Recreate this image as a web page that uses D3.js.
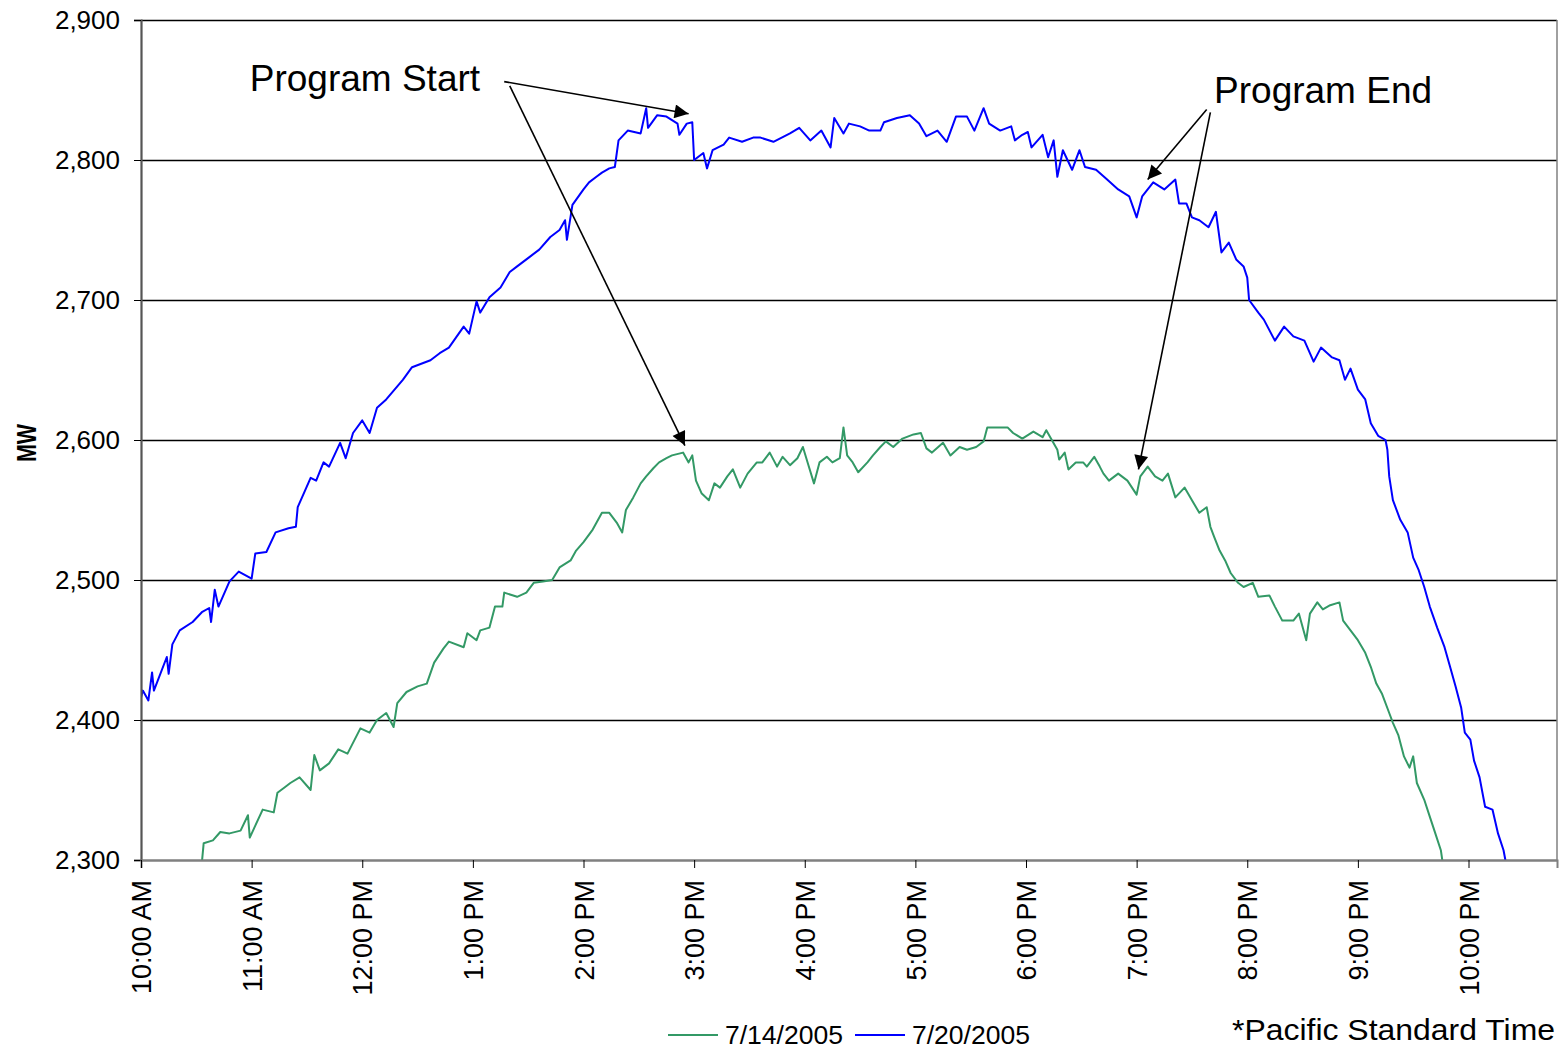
<!DOCTYPE html>
<html>
<head>
<meta charset="utf-8">
<script src="https://cdn.jsdelivr.net/npm/d3@7"></script>
<style>
  html, body { margin: 0; padding: 0; background: #fff; }
  svg { display: block; font-family: "Liberation Sans", Arial, sans-serif; }
</style>
</head>
<body>
<svg id="chart" width="1560" height="1049"></svg>
<script>
// ---------------- DATA ----------------
const seriesNames = ["7/14/2005", "7/20/2005"];
const seriesColors = ["#339966", "#0000FF"];

// 7/20/2005 load (MW), time of day (PST)
const jul20Times = ["10:00","10:01","10:04","10:06","10:07","10:14","10:15","10:17","10:21","10:28","10:33","10:37","10:38","10:40","10:42","10:48","10:53","11:00","11:02","11:08","11:13","11:20","11:24","11:25","11:28","11:32","11:35","11:39","11:42","11:48","11:51","11:55","12:00","12:04","12:08","12:13","12:22","12:27","12:37","12:42","12:47","12:55","12:58","13:02","13:04","13:09","13:15","13:20","13:24","13:31","13:36","13:42","13:47","13:50","13:51","13:54","14:00","14:03","14:07","14:10","14:14","14:17","14:19","14:24","14:31","14:34","14:35","14:40","14:45","14:51","14:52","14:56","14:59","15:00","15:05","15:07","15:10","15:16","15:19","15:26","15:32","15:36","15:43","15:52","15:57","16:03","16:09","16:14","16:16","16:21","16:24","16:30","16:35","16:41","16:43","16:50","16:57","17:02","17:06","17:12","17:17","17:22","17:28","17:32","17:37","17:40","17:46","17:52","17:54","17:58","18:01","18:03","18:09","18:12","18:15","18:17","18:20","18:25","18:29","18:32","18:38","18:44","18:50","18:56","19:00","19:03","19:09","19:15","19:21","19:23","19:27","19:30","19:34","19:39","19:43","19:46","19:50","19:54","19:58","20:00","20:01","20:06","20:09","20:15","20:20","20:25","20:31","20:36","20:40","20:46","20:50","20:53","20:56","21:00","21:04","21:07","21:11","21:15","21:16","21:17","21:19","21:23","21:27","21:30","21:33","21:36","21:39","21:43","21:47","21:50","21:53","21:56","21:58","22:01","22:03","22:06","22:09","22:13","22:16","22:19","22:20"];
const jul20Values = [2416,2421,2414,2434,2421,2445,2433,2454,2464,2470,2477,2480,2470,2493,2481,2499,2506,2501,2519,2520,2534,2537,2538,2552,2561,2573,2571,2584,2581,2598,2587,2605,2614,2605,2623,2629,2643,2652,2657,2662,2666,2681,2676,2699,2691,2702,2709,2720,2724,2731,2736,2745,2750,2757,2743,2768,2779,2784,2788,2791,2794,2795,2814,2821,2819,2837,2823,2832,2831,2826,2818,2826,2827,2800,2805,2794,2807,2811,2816,2813,2816,2816,2813,2819,2823,2814,2821,2809,2830,2819,2826,2824,2821,2821,2827,2830,2832,2826,2817,2821,2813,2831,2831,2821,2837,2826,2821,2824,2814,2818,2820,2809,2818,2802,2814,2788,2807,2793,2807,2795,2793,2786,2779,2774,2759,2774,2784,2779,2786,2769,2769,2759,2757,2752,2763,2734,2741,2729,2724,2716,2700,2691,2686,2671,2681,2674,2671,2656,2666,2659,2657,2643,2651,2636,2629,2612,2603,2600,2593,2574,2557,2543,2534,2516,2507,2495,2481,2466,2452,2438,2424,2409,2391,2386,2371,2359,2338,2336,2319,2307,2300];

// 7/14/2005 load (MW), time of day (PST)
const jul14Times = ["10:33","10:34","10:39","10:43","10:48","10:54","10:58","10:59","11:06","11:12","11:14","11:18","11:21","11:26","11:32","11:34","11:37","11:42","11:47","11:52","11:59","12:04","12:08","12:13","12:17","12:19","12:24","12:30","12:35","12:39","12:44","12:47","12:55","12:57","13:02","13:04","13:09","13:12","13:16","13:17","13:24","13:29","13:33","13:38","13:43","13:47","13:53","13:56","14:00","14:05","14:10","14:14","14:18","14:21","14:23","14:27","14:31","14:34","14:38","14:41","14:45","14:48","14:54","14:57","14:59","15:01","15:04","15:08","15:11","15:14","15:18","15:21","15:25","15:29","15:34","15:37","15:41","15:45","15:48","15:52","15:56","15:59","16:02","16:05","16:08","16:12","16:15","16:19","16:21","16:23","16:26","16:29","16:34","16:37","16:41","16:44","16:48","16:53","16:59","17:03","17:06","17:09","17:15","17:19","17:24","17:28","17:33","17:37","17:39","17:44","17:50","17:53","17:58","18:04","18:09","18:11","18:14","18:17","18:18","18:21","18:23","18:27","18:31","18:33","18:37","18:40","18:42","18:45","18:50","18:55","19:00","19:02","19:06","19:10","19:14","19:17","19:21","19:26","19:30","19:34","19:38","19:40","19:42","19:45","19:48","19:51","19:55","19:58","20:03","20:06","20:12","20:15","20:19","20:25","20:28","20:32","20:34","20:38","20:41","20:45","20:50","20:52","20:56","21:00","21:04","21:07","21:10","21:13","21:17","21:19","21:22","21:25","21:28","21:30","21:32","21:36","21:39","21:42","21:45","21:46"];
const jul14Values = [2298,2312,2314,2320,2319,2321,2332,2316,2336,2334,2348,2352,2355,2359,2350,2375,2364,2369,2379,2376,2394,2391,2400,2405,2395,2412,2420,2424,2426,2441,2451,2456,2452,2462,2457,2464,2466,2481,2481,2491,2488,2491,2498,2499,2500,2509,2514,2521,2527,2536,2548,2548,2541,2534,2550,2559,2569,2574,2580,2584,2587,2589,2591,2584,2589,2571,2562,2557,2569,2566,2574,2579,2566,2576,2584,2584,2591,2581,2588,2582,2587,2595,2582,2569,2584,2588,2584,2587,2609,2589,2584,2577,2584,2589,2595,2599,2595,2601,2604,2605,2594,2591,2598,2589,2595,2593,2595,2599,2609,2609,2609,2605,2601,2606,2602,2607,2600,2593,2586,2591,2579,2584,2584,2581,2588,2581,2576,2571,2576,2571,2561,2574,2581,2574,2571,2576,2559,2566,2557,2548,2552,2538,2531,2521,2514,2505,2498,2495,2498,2488,2489,2481,2471,2471,2476,2457,2476,2484,2479,2482,2484,2471,2464,2457,2448,2438,2426,2419,2405,2398,2389,2374,2366,2374,2355,2343,2331,2319,2307,2298];

const yTicks = [2300, 2400, 2500, 2600, 2700, 2800, 2900];
const xTickTimes = ["10:00","11:00","12:00","13:00","14:00","15:00","16:00","17:00","18:00","19:00","20:00","21:00","22:00"];
const xDomainTimes = ["10:00", "22:48"];
const yDomain = [2300, 2900];

// Annotations: label, label anchor (time,value), arrow tails & tips (time,value)
const annotLabels = ["Program Start", "Program End"];
const annotLabelPos = [["10:59", 2849.3], ["19:42", 2840.7]];
const annotArrows = [
  [["13:17", 2856], ["14:57", 2833]],
  [["13:20", 2853], ["14:55", 2596]],
  [["19:38", 2836], ["19:06", 2786]],
  [["19:40", 2834], ["19:01", 2579]]
];
const yTitle = "MW";
const footnote = "*Pacific Standard Time";

// ---------------- CHART ----------------
const parseT = d3.timeParse("%H:%M");
const svg = d3.select("#chart");
const margin = { left: 141, right: 3, top: 20, bottom: 189 };
const W = 1560, H = 1049;
const x = d3.scaleTime().domain(xDomainTimes.map(parseT)).range([margin.left, W - margin.right]);
const y = d3.scaleLinear().domain(yDomain).range([H - margin.bottom, margin.top]);

const defs = svg.append("defs");
defs.append("clipPath").attr("id", "plotclip")
  .append("rect").attr("x", x.range()[0]).attr("y", y.range()[1])
  .attr("width", x.range()[1] - x.range()[0]).attr("height", y.range()[0] - y.range()[1]);

// gridlines
svg.append("g").selectAll("line").data(yTicks).join("line")
  .attr("x1", x.range()[0]).attr("x2", x.range()[1])
  .attr("y1", d => y(d) + 0.5).attr("y2", d => y(d) + 0.5)
  .attr("stroke", "#000").attr("stroke-width", 1.3);

// plot border (right)
svg.append("line").attr("x1", x.range()[1]).attr("x2", x.range()[1])
  .attr("y1", y.range()[1]).attr("y2", y.range()[0])
  .attr("stroke", "#808080").attr("stroke-width", 1.5);

// series lines
const line = d3.line().x(d => x(d.t)).y(d => y(d.v));
const series = [
  jul14Times.map((t, i) => ({ t: parseT(t), v: jul14Values[i] })),
  jul20Times.map((t, i) => ({ t: parseT(t), v: jul20Values[i] }))
];
svg.append("g").attr("clip-path", "url(#plotclip)").selectAll("path").data(series).join("path")
  .attr("d", line).attr("fill", "none")
  .attr("stroke", (d, i) => seriesColors[i]).attr("stroke-width", 2)
  .attr("stroke-linejoin", "round");

// Y axis
const yAxis = svg.append("g").attr("transform", `translate(${x.range()[0]},0)`)
  .call(d3.axisLeft(y).tickValues(yTicks).tickFormat(d3.format(",")).tickSizeOuter(0).tickSize(7).tickPadding(14));
yAxis.select(".domain").attr("stroke", "#555").attr("stroke-width", 2.2);
yAxis.selectAll(".tick line").attr("stroke", "#000");
yAxis.selectAll("text").attr("font-size", 26).attr("fill", "#000")
  .attr("font-family", "Liberation Sans, Arial, sans-serif");

// X axis
const xAxis = svg.append("g").attr("transform", `translate(0,${y.range()[0]})`)
  .call(d3.axisBottom(x).tickValues(xTickTimes.map(parseT)).tickFormat(d3.timeFormat("%-I:%M %p")).tickSizeOuter(0).tickSize(8));
xAxis.select(".domain").attr("stroke", "#808080").attr("stroke-width", 2);
xAxis.selectAll(".tick line").attr("stroke", "#000");
xAxis.selectAll("text")
  .attr("font-size", 27).attr("fill", "#000")
  .attr("font-family", "Liberation Sans, Arial, sans-serif")
  .attr("text-anchor", "end")
  .attr("transform", "rotate(-90)")
  .attr("x", -20).attr("y", 0).attr("dy", "0.36em");

// Y title
svg.append("text").text(yTitle)
  .attr("transform", `translate(36,${(y.range()[0] + y.range()[1]) / 2 + 3}) rotate(-90)`)
  .attr("text-anchor", "middle").attr("font-weight", "bold").attr("font-size", 28)
  .attr("textLength", 38).attr("lengthAdjust", "spacingAndGlyphs")
  .attr("fill", "#000");

// Annotations
defs.append("marker").attr("id", "arrow").attr("viewBox", "0 0 10 10")
  .attr("refX", 10).attr("refY", 5).attr("markerWidth", 20).attr("markerHeight", 14)
  .attr("markerUnits", "userSpaceOnUse").attr("orient", "auto")
  .append("path").attr("d", "M0,0 L10,5 L0,10 Z").attr("fill", "#000");

svg.append("g").selectAll("line").data(annotArrows).join("line")
  .attr("x1", d => x(parseT(d[0][0]))).attr("y1", d => y(d[0][1]))
  .attr("x2", d => x(parseT(d[1][0]))).attr("y2", d => y(d[1][1]))
  .attr("stroke", "#000").attr("stroke-width", 1.6).attr("marker-end", "url(#arrow)");

svg.append("g").selectAll("text").data(annotLabels).join("text")
  .text(d => d)
  .attr("x", (d, i) => x(parseT(annotLabelPos[i][0])))
  .attr("y", (d, i) => y(annotLabelPos[i][1]))
  .attr("font-size", 37).attr("fill", "#000");

// Legend
const legend = svg.append("g").attr("transform", "translate(668,1035)");
const legX = [0, 187];
seriesNames.forEach((name, i) => {
  const g = legend.append("g").attr("transform", `translate(${legX[i]},0)`);
  g.append("line").attr("x1", 0).attr("x2", 50).attr("y1", 0).attr("y2", 0)
    .attr("stroke", seriesColors[i]).attr("stroke-width", 2);
  g.append("text").text(name).attr("x", 57).attr("y", 9).attr("font-size", 26)
    .attr("textLength", 118).attr("lengthAdjust", "spacingAndGlyphs").attr("fill", "#000");
});

// Footnote
svg.append("text").text(footnote).attr("x", 1232).attr("y", 1040)
  .attr("font-size", 29).attr("textLength", 323).attr("lengthAdjust", "spacingAndGlyphs")
  .attr("fill", "#000");
</script>
</body>
</html>
